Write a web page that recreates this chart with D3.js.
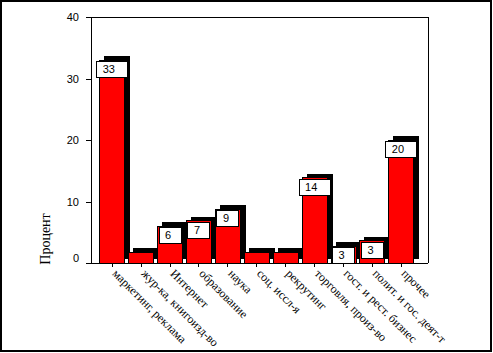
<!DOCTYPE html>
<html><head><meta charset="utf-8">
<script src="https://cdn.jsdelivr.net/npm/d3@7"></script>
<style>html,body{margin:0;padding:0;background:#fff;}svg{display:block;}</style>
</head><body>
<script>
const categories = ["маркетинг, реклама","жур-ка, книгоизд-во","Интернет","образование","наука","соц. иссл-я","рекрутинг","торговля, произ-во","гост. и рест. бизнес","полит. и гос. деят-т","прочее"];
const values = [33, 1.8, 6.0, 6.9, 8.8, 1.8, 1.8, 13.9, 2.8, 3.7, 20];
const valueLabels = ["33", "", "6", "7", "9", "", "", "14", "3", "3", "20"];
const yTicks = [0, 10, 20, 30, 40];
const yTitle = "Процент";

const W = 493, H = 353;
const svg = d3.select("body").append("svg").attr("width", W).attr("height", H);
svg.append("rect").attr("x", 0).attr("y", 0).attr("width", W).attr("height", H).attr("fill", "#fff");
// outer border
svg.append("rect").attr("x", 1).attr("y", 1).attr("width", 490).attr("height", 350)
  .attr("fill", "none").attr("stroke", "#000").attr("stroke-width", 2);

const plotL = 91, plotR = 428, plotT = 17.3, plotB = 263.3;
const y = d3.scaleLinear().domain([0, 40]).range([plotB, plotT]);
const x = d3.scaleBand().domain(categories).range([97.8, 415.8]).paddingInner(0.1).paddingOuter(0.05);

// plot frame (top/right)
svg.append("path").attr("d", `M${plotL},${plotT}H${plotR}V${plotB}`)
  .attr("fill", "none").attr("stroke", "#000").attr("stroke-width", 1).attr("shape-rendering", "crispEdges");

const dx = 5, dy = -4;
// shadows
svg.append("g").selectAll("rect").data(values).join("rect")
  .attr("x", (d, i) => x(categories[i]) + dx)
  .attr("y", d => y(d) + dy)
  .attr("width", x.bandwidth())
  .attr("height", d => y(0) - y(d))
  .attr("fill", "#000").attr("shape-rendering", "crispEdges");
// bars
svg.append("g").selectAll("rect").data(values).join("rect")
  .attr("x", (d, i) => x(categories[i]) + 0.5)
  .attr("y", d => y(d))
  .attr("width", x.bandwidth() - 1)
  .attr("height", d => y(0) - y(d))
  .attr("fill", "#ff0000").attr("stroke", "#000").attr("stroke-width", 1).attr("shape-rendering", "crispEdges");

// value label boxes
const lab = svg.append("g").selectAll("g").data(values.map((v, i) => ({v, i, t: valueLabels[i]})).filter(d => d.t))
  .join("g");
lab.each(function(d) {
  const g = d3.select(this);
  const bw = 13 + 9 * d.t.length, bh = 16;
  const cx = x(categories[d.i]) + x.bandwidth() / 2;
  const top = y(d.v) + 1.5;
  g.append("rect").attr("x", cx - bw / 2).attr("y", top).attr("width", bw).attr("height", bh)
    .attr("fill", "#fff").attr("stroke", "#000").attr("stroke-width", 1).attr("shape-rendering", "crispEdges");
  g.append("text").attr("x", cx - bw / 2 + 6).attr("y", top + 11.5)
    .attr("font-family", "Liberation Sans, Arial, sans-serif").attr("font-size", 11).attr("fill", "#000")
    .text(d.t);
});

// y axis
const yAxis = d3.axisLeft(y).tickValues(yTicks).tickSize(5).tickSizeOuter(0).tickPadding(7);
const gy = svg.append("g").attr("transform", `translate(${plotL},0)`).call(yAxis);
gy.selectAll("path.domain").attr("stroke", "#000").attr("shape-rendering", "crispEdges");
gy.selectAll("line").attr("stroke", "#000").attr("shape-rendering", "crispEdges");
gy.selectAll("text").attr("font-family", "Liberation Sans, Arial, sans-serif").attr("font-size", 11).attr("fill", "#000");
gy.selectAll(".tick").filter(d => d === 0).select("text").attr("dy", "-0.2em");

// x axis
const xAxis = d3.axisBottom(x).tickSize(4).tickSizeOuter(0).tickFormat("");
const gx = svg.append("g").attr("transform", `translate(0,${plotB})`).call(xAxis);
gx.select("path.domain").attr("d", `M${plotL},0.5H${plotR}`).attr("stroke", "#000").attr("shape-rendering", "crispEdges");
gx.selectAll("line").attr("stroke", "#000").attr("shape-rendering", "crispEdges");

// rotated category labels
svg.append("g").selectAll("text").data(categories).join("text")
  .attr("transform", d => `translate(${x(d) + x.bandwidth() / 2},${plotB + 4}) rotate(45)`)
  .attr("x", 4.6).attr("y", 5.3)
  .attr("font-family", "Liberation Serif, Times New Roman, serif").attr("font-size", 12).attr("fill", "#000")
  .text(d => d);

// y title
svg.append("text").attr("transform", `translate(50,239) rotate(-90)`)
  .attr("text-anchor", "middle")
  .attr("font-family", "Liberation Serif, Times New Roman, serif").attr("font-size", 14).attr("fill", "#000")
  .text(yTitle);
</script>
</body></html>
